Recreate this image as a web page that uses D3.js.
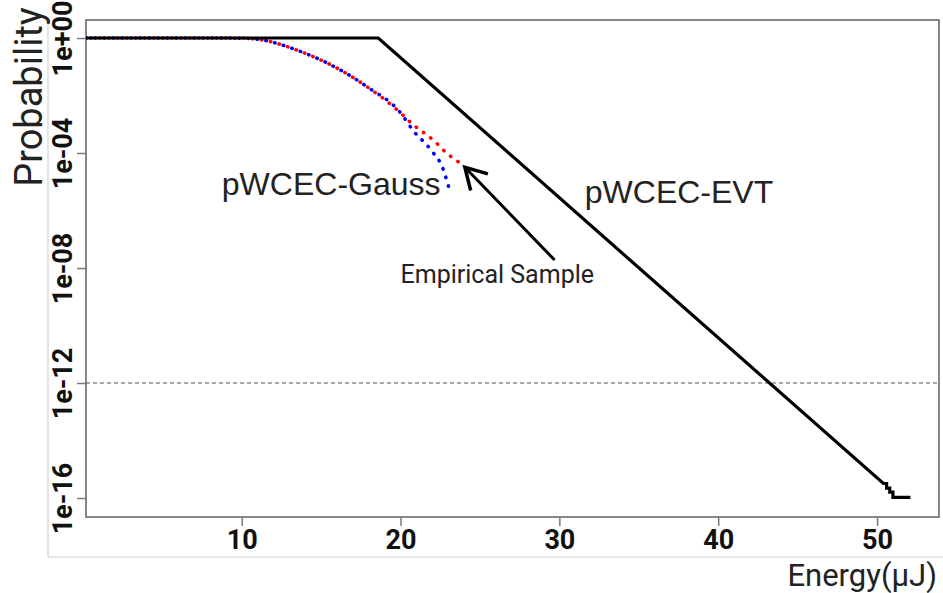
<!DOCTYPE html>
<html>
<head>
<meta charset="utf-8">
<script src="https://cdn.jsdelivr.net/npm/d3@7"></script>
<style>
  body { margin: 0; background: #fff; }
  text { font-family: Roboto, "Liberation Sans", sans-serif; }
</style>
</head>
<body>
<script>
'use strict';

// chart size
let width = 943,
  height = 593;

// pWCEC-EVT curve (energy in uJ, exceedance probability)
const evtEnergy = [0.2, 18.6, 50.4, 50.6, 50.6, 50.8, 50.8, 51.0, 51.0, 52.1];
const evtProb = [1, 1, 3.2e-16, 3.2e-16, 2.2e-16, 2.2e-16, 1.6e-16, 1.6e-16, 1.05e-16, 1.05e-16];

// pWCEC-Gauss curve (blue)
const gaussEnergy = [0.2, 8.0, 10.0, 11.2, 13.7, 16.2, 17.9, 20.0, 20.8, 21.9, 22.7, 23.05];
const gaussProb = [1, 1, 0.98, 0.87, 0.34, 0.078, 0.02, 2.5e-3, 6e-4, 1.3e-4, 2.6e-5, 6e-6];

// empirical sample (red)
const empEnergy = [0.2, 8.0, 10.0, 11.2, 13.7, 16.2, 17.9, 20.0, 20.6, 22.2, 22.9, 23.75];
const empProb = [1, 1, 0.98, 0.87, 0.34, 0.078, 0.02, 2.5e-3, 1.2e-3, 2.4e-4, 1e-4, 4.5e-5];

// axis ticks
const xTicks = [10, 20, 30, 40, 50];
const yTicks = [1, 1e-4, 1e-8, 1e-12, 1e-16];
const yTickLabels = ["1e+00", "1e-04", "1e-08", "1e-12", "1e-16"];

// threshold line
const threshold = 1e-12;

// text annotations [energy, prob, label]
const labels = [
  [8.75, 3.5e-6, "pWCEC-Gauss"],
  [31.6, 1.8e-6, "pWCEC-EVT"]
];
const sampleLabel = [20.0, 3.0e-9, "Empirical Sample"];
// arrow from tail to tip
const arrowTail = [29.7, 1.9e-8];
const arrowTip = [24.05, 3.2e-5];

window.onload = function () {
  let svg = d3.select("body")
    .append("svg")
    .attr("width", width)
    .attr("height", height);

  let margin = { left: 86, top: 20, right: 939, bottom: 517 };

  let x = d3.scaleLinear()
    .domain([0.2, 53.9])
    .range([margin.left, margin.right]);

  let y = d3.scaleLog()
    .domain([Math.pow(10, -16.66), Math.pow(10, 0.626)])
    .range([margin.bottom, margin.top]);

  drawFrame(svg, margin);
  drawAxes(svg, x, y, margin);
  drawCurves(svg, x, y, margin);
  drawAnnotations(svg, x, y);
}

// light figure frame and plot box
function drawFrame(svg, m) {
  svg.append("line")
    .attr("x1", 48).attr("x2", 48)
    .attr("y1", m.top).attr("y2", 557)
    .attr("stroke", "#d4d4d4").attr("stroke-width", 1.2);
  svg.append("line")
    .attr("x1", 48).attr("x2", width)
    .attr("y1", 557).attr("y2", 557)
    .attr("stroke", "#d4d4d4").attr("stroke-width", 1.2);

  svg.append("rect")
    .attr("x", m.left)
    .attr("y", m.top)
    .attr("width", m.right - m.left)
    .attr("height", m.bottom - m.top)
    .attr("fill", "none")
    .attr("stroke", "#7a7a7a")
    .attr("stroke-width", 1.8);
}

function drawAxes(svg, x, y, m) {
  // x axis
  let xAxis = svg.append("g")
    .attr("transform", "translate(0," + m.bottom + ")")
    .call(d3.axisBottom(x)
      .tickValues(xTicks)
      .tickSize(9)
      .tickPadding(4)
      .tickSizeOuter(0));
  xAxis.select(".domain").remove();
  xAxis.selectAll(".tick line").attr("stroke", "#7a7a7a").attr("stroke-width", 1.5);
  xAxis.selectAll(".tick text")
    .attr("fill", "#111")
    .style("font-size", "27px")
    .style("font-weight", "bold");

  // y axis
  let yAxis = svg.append("g")
    .attr("transform", "translate(" + m.left + ",0)")
    .call(d3.axisLeft(y)
      .tickValues(yTicks)
      .tickFormat((d, i) => yTickLabels[i])
      .tickSize(9)
      .tickSizeOuter(0));
  yAxis.select(".domain").remove();
  yAxis.selectAll(".tick line").attr("stroke", "#7a7a7a").attr("stroke-width", 1.5);
  yAxis.selectAll(".tick text")
    .attr("fill", "#111")
    .attr("transform", "rotate(-90)")
    .attr("x", 0)
    .attr("y", -14)
    .attr("dy", 0)
    .attr("text-anchor", "middle")
    .style("font-size", "27px")
    .style("font-weight", "bold");

  // axis titles
  svg.append("text")
    .attr("transform", "translate(42,97) rotate(-90)")
    .attr("text-anchor", "middle")
    .attr("fill", "#222")
    .style("font-size", "38px")
    .text("Probability");

  svg.append("text")
    .attr("x", 937)
    .attr("y", 586)
    .attr("text-anchor", "end")
    .attr("fill", "#222")
    .style("font-size", "31px")
    .text("Energy(μJ)");
}

function drawCurves(svg, x, y, m) {
  svg.append("clipPath")
    .attr("id", "plot-clip")
    .append("rect")
    .attr("x", m.left).attr("y", m.top)
    .attr("width", m.right - m.left).attr("height", m.bottom - m.top);

  let line = d3.line()
    .x(d => x(d[0]))
    .y(d => y(d[1]));

  let smooth = d3.line()
    .x(d => x(d[0]))
    .y(d => y(d[1]))
    .curve(d3.curveMonotoneX);

  let g = svg.append("g").attr("clip-path", "url(#plot-clip)");

  // threshold
  g.append("line")
    .attr("x1", m.left).attr("x2", m.right)
    .attr("y1", y(threshold)).attr("y2", y(threshold))
    .attr("stroke", "#555")
    .attr("stroke-width", 1.2)
    .attr("stroke-dasharray", "4,3");

  // empirical sample, red dotted
  g.append("path")
    .datum(d3.zip(empEnergy, empProb))
    .attr("d", smooth)
    .attr("fill", "none")
    .attr("stroke", "red")
    .attr("stroke-width", 3.5)
    .attr("stroke-linecap", "round")
    .attr("stroke-dasharray", "0.5,8.5")
    .attr("stroke-dashoffset", 4.5);

  // gauss fit, blue dotted
  g.append("path")
    .datum(d3.zip(gaussEnergy, gaussProb))
    .attr("d", smooth)
    .attr("fill", "none")
    .attr("stroke", "blue")
    .attr("stroke-width", 3.5)
    .attr("stroke-linecap", "round")
    .attr("stroke-dasharray", "0.5,8.5");

  // EVT, solid black
  g.append("path")
    .datum(d3.zip(evtEnergy, evtProb))
    .attr("d", line)
    .attr("fill", "none")
    .attr("stroke", "#000")
    .attr("stroke-width", 3.2);
}

function drawAnnotations(svg, x, y) {
  labels.forEach(l => {
    svg.append("text")
      .attr("x", x(l[0]))
      .attr("y", y(l[1]))
      .attr("fill", "#222")
      .style("font-family", "'Liberation Sans', Arial, sans-serif")
      .style("font-size", "32px")
      .text(l[2]);
  });

  svg.append("text")
    .attr("x", x(sampleLabel[0]))
    .attr("y", y(sampleLabel[1]))
    .attr("fill", "#222")
    .style("font-size", "25px")
    .text(sampleLabel[2]);

  // arrow shaft and open head
  let tx = x(arrowTail[0]), ty = y(arrowTail[1]);
  let hx = x(arrowTip[0]), hy = y(arrowTip[1]);
  let ang = Math.atan2(hy - ty, hx - tx);
  let len = 24, spread = Math.PI / 6;

  svg.append("line")
    .attr("x1", tx).attr("y1", ty)
    .attr("x2", hx).attr("y2", hy)
    .attr("stroke", "#000")
    .attr("stroke-width", 3);

  svg.append("path")
    .attr("d", d3.line()([
      [hx - len * Math.cos(ang - spread), hy - len * Math.sin(ang - spread)],
      [hx, hy],
      [hx - len * Math.cos(ang + spread), hy - len * Math.sin(ang + spread)]
    ]))
    .attr("fill", "none")
    .attr("stroke", "#000")
    .attr("stroke-width", 3.5)
    .attr("stroke-linejoin", "miter");
}
</script>
</body>
</html>
